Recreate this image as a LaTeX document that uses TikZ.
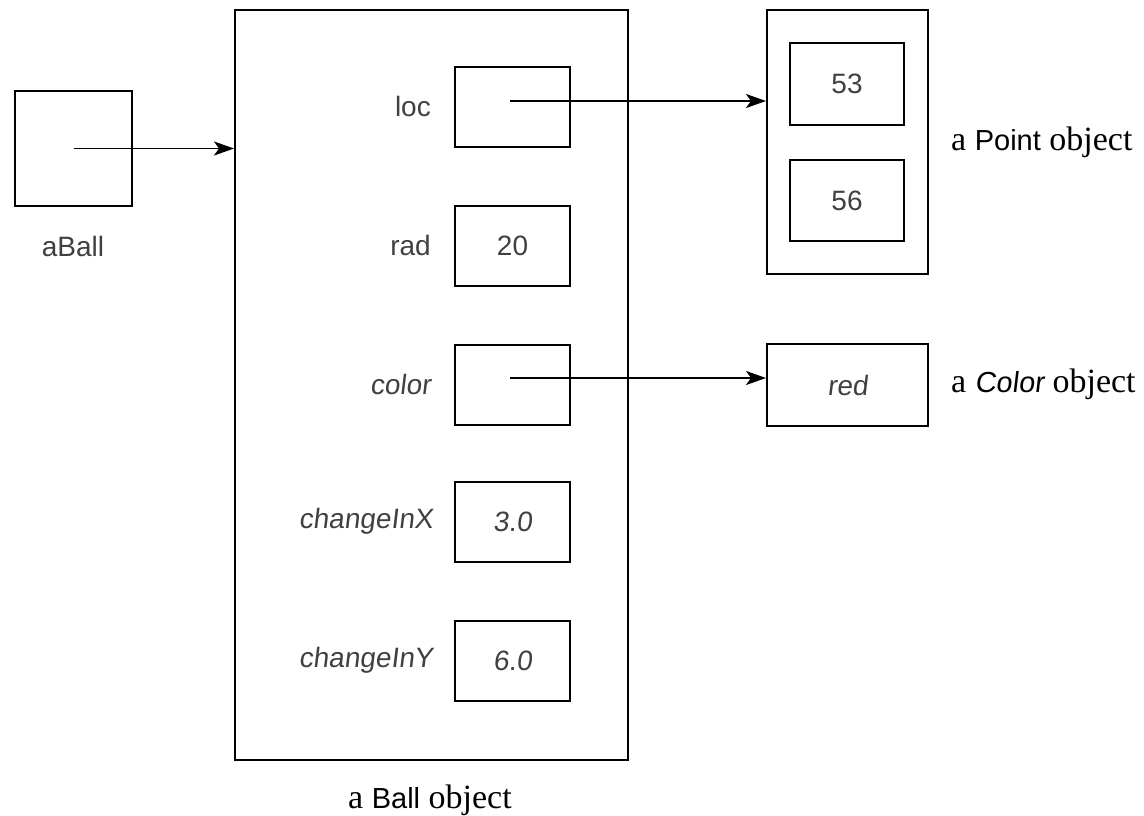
\documentclass[tikz,border=0pt]{standalone}
\usepackage{fontspec}
\setmainfont{Liberation Serif}
\newfontfamily\handfont{Liberation Sans}
\newfontfamily\handslant{Liberation Sans}[FakeSlant=0.12]
\usetikzlibrary{arrows.meta}

\begin{document}
\begin{tikzpicture}[x=1pt,y=-1pt,
  box/.style={draw, line width=2pt, inner sep=0pt, anchor=north west},
  fieldbox/.style={box, minimum width=115pt, minimum height=80pt,
    font=\handfont\fontsize{28}{32}\selectfont, text=black!75},
  fieldname/.style={anchor=east, inner sep=0pt,
    font=\handfont\fontsize{28}{32}\selectfont, text=black!75},
  slanted/.style={font=\handslant\fontsize{28}{32}\selectfont},
  caption/.style={inner sep=0pt, font=\fontsize{34}{40}\selectfont},
  hand/.style={font=\handfont\fontsize{28}{32}\selectfont, text=black!75},
  ref/.style={line width=1.8pt, -{Stealth[length=20pt,width=14pt,inset=5pt]}}]

\useasboundingbox (0,0) rectangle (1144,815);

% the variable aBall
\node[box, minimum width=117pt, minimum height=115pt] (aball) at (14,90) {};
\node[hand, inner sep=0pt] (aballname) at (73,246) {aBall};

% the Ball object and its fields
\node[box, minimum width=393pt, minimum height=750pt] (ball) at (234,9) {};
\node[caption] (ballcap) at (430,800) {a {\handfont\fontsize{29}{34}\selectfont Ball} object};

\node[fieldbox] (loc) at (454,66) {};
\node[fieldname] (locname) at (431,106) {loc};
\node[fieldbox] (rad) at (454,205) {20};
\node[fieldname] (radname) at (431,245) {rad};
\node[fieldbox] (color) at (454,344) {};
\node[fieldname, slanted] (colorname) at (431,384) {color};
\node[fieldbox, slanted] (dx) at (454,481) {3.0};
\node[fieldname, slanted] (dxname) at (433,521) {changeInX};
\node[fieldbox, slanted] (dy) at (454,620) {6.0};
\node[fieldname, slanted] (dyname) at (433,660) {changeInY};

% the Point object
\node[box, minimum width=161pt, minimum height=264pt] (point) at (766,9) {};
\node[fieldbox, minimum width=114pt, minimum height=82pt] (px) at (789,42) {53};
\node[fieldbox, minimum width=114pt, minimum height=81pt] (py) at (789,159) {56};
\node[caption, anchor=west] (pointcap) at (951,142) {a {\handfont\fontsize{29}{34}\selectfont Point} object};

% the Color object
\node[box, minimum width=161pt, minimum height=82pt] (colorobj) at (766,343) {\handslant\fontsize{28}{32}\selectfont\color{black!75}red};
\node[caption, anchor=west] (colorcap) at (951,384) {a {\handslant\fontsize{29}{34}\selectfont Color} object};

% references
\coordinate (locref) at (510,101);
\coordinate (colorref) at (510,378);
\draw[ref] (aball.center) -- (aball.center -| ball.west);
\draw[ref] (locref) -- (locref -| point.west);
\draw[ref] (colorref) -- (colorref -| colorobj.west);
\end{tikzpicture}
\end{document}
